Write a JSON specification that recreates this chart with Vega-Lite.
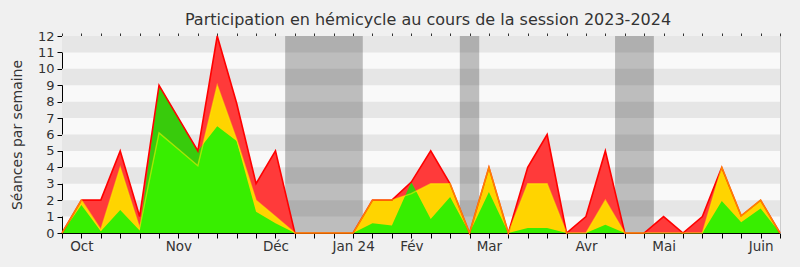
{
  "$schema": "https://vega.github.io/schema/vega-lite/v6.json",
  "autosize": {"type": "none"},
  "padding": {"left": 62, "top": 36, "right": 20, "bottom": 34},
  "width": 718,
  "height": 197,
  "background": "#f0f0f0",
  "config": {
    "view": {"stroke": null, "fill": "#f9f9f9"},
    "font": "DejaVu Sans"
  },
  "title": {
    "text": "Participation en hémicycle au cours de la session 2023-2024",
    "font": "DejaVu Sans",
    "fontSize": 16,
    "fontWeight": "normal",
    "color": "#333333",
    "anchor": "middle",
    "dx": 7,
    "offset": 2
  },
  "datasets": {
    "semaines": [
      {"semaine": 0, "seances": 0, "presences": 0, "participations": 0},
      {"semaine": 1, "seances": 2, "presences": 2, "participations": 1.7},
      {"semaine": 2, "seances": 2, "presences": 0.2, "participations": 0.1},
      {"semaine": 3, "seances": 5, "presences": 4, "participations": 1.4},
      {"semaine": 4, "seances": 1, "presences": 0.3, "participations": 0.15},
      {"semaine": 5, "seances": 9, "presences": 6.1, "participations": 9},
      {"semaine": 6, "seances": 7, "presences": 5.1, "participations": 7},
      {"semaine": 7, "seances": 5, "presences": 4.1, "participations": 5},
      {"semaine": 8, "seances": 12, "presences": 9, "participations": 6.5},
      {"semaine": 9, "seances": 7.9, "presences": 5.7, "participations": 5.6},
      {"semaine": 10, "seances": 3, "presences": 2, "participations": 1.3},
      {"semaine": 11, "seances": 5, "presences": 1, "participations": 0.6},
      {"semaine": 12, "seances": 0, "presences": 0, "participations": 0},
      {"semaine": 13, "seances": 0, "presences": 0, "participations": 0},
      {"semaine": 14, "seances": 0, "presences": 0, "participations": 0},
      {"semaine": 15, "seances": 0, "presences": 0, "participations": 0},
      {"semaine": 16, "seances": 2, "presences": 2, "participations": 0.6},
      {"semaine": 17, "seances": 2, "presences": 2, "participations": 0.45},
      {"semaine": 18, "seances": 3.1, "presences": 2.4, "participations": 3.1},
      {"semaine": 19, "seances": 5, "presences": 3, "participations": 0.85},
      {"semaine": 20, "seances": 3, "presences": 3, "participations": 2.2},
      {"semaine": 21, "seances": 0, "presences": 0, "participations": 0},
      {"semaine": 22, "seances": 4, "presences": 4, "participations": 2.5},
      {"semaine": 23, "seances": 0, "presences": 0, "participations": 0},
      {"semaine": 24, "seances": 4, "presences": 3, "participations": 0.3},
      {"semaine": 25, "seances": 6, "presences": 3, "participations": 0.3},
      {"semaine": 26, "seances": 0, "presences": 0, "participations": 0},
      {"semaine": 27, "seances": 1, "presences": 0, "participations": 0},
      {"semaine": 28, "seances": 5, "presences": 2, "participations": 0.5},
      {"semaine": 29, "seances": 0, "presences": 0, "participations": 0},
      {"semaine": 30, "seances": 0, "presences": 0, "participations": 0},
      {"semaine": 31, "seances": 1, "presences": 0, "participations": 0},
      {"semaine": 32, "seances": 0, "presences": 0, "participations": 0},
      {"semaine": 33, "seances": 1, "presences": 0, "participations": 0},
      {"semaine": 34, "seances": 4, "presences": 4, "participations": 1.95},
      {"semaine": 35, "seances": 1.05, "presences": 1.05, "participations": 0.65},
      {"semaine": 36, "seances": 2, "presences": 2, "participations": 1.5},
      {"semaine": 37, "seances": 0, "presences": 0, "participations": 0}
    ],
    "bandes": [
      {"bas": 1, "haut": 2},
      {"bas": 3, "haut": 4},
      {"bas": 5, "haut": 6},
      {"bas": 7, "haut": 8},
      {"bas": 9, "haut": 10},
      {"bas": 11, "haut": 12}
    ],
    "vacances": [
      {"debut": 11.5, "fin": 15.5},
      {"debut": 20.5, "fin": 21.5},
      {"debut": 28.5, "fin": 30.5}
    ]
  },
  "resolve": {"axis": {"x": "independent", "y": "independent"}},
  "layer": [
    {
      "data": {"name": "bandes"},
      "mark": {"type": "rect", "color": "#e6e6e6"},
      "encoding": {
        "y": {"field": "bas", "type": "quantitative", "scale": {"domain": [0, 12], "nice": false}, "axis": null},
        "y2": {"field": "haut"}
      }
    },
    {
      "data": {"name": "vacances"},
      "mark": {"type": "rect", "color": "#000000", "opacity": 0.24},
      "encoding": {
        "x": {"field": "debut", "type": "quantitative", "scale": {"domain": [0, 37], "nice": false, "zero": false}, "axis": null},
        "x2": {"field": "fin"}
      }
    },
    {
      "data": {"name": "semaines"},
      "mark": {"type": "area", "color": "#ff3a3a", "opacity": 1},
      "encoding": {
        "x": {
          "field": "semaine", "type": "quantitative",
          "scale": {"domain": [0, 37], "nice": false, "zero": false},
          "axis": {
            "orient": "bottom",
            "title": null,
            "grid": false,
            "values": [0,1,2,3,4,5,6,7,8,9,10,11,12,13,14,15,16,17,18,19,20,21,22,23,24,25,26,27,28,29,30,31,32,33,34,35,36,37],
            "labelExpr": "datum.value == 1 ? 'Oct' : datum.value == 6 ? 'Nov' : datum.value == 11 ? 'Déc' : datum.value == 15 ? 'Jan 24' : datum.value == 18 ? 'Fév' : datum.value == 22 ? 'Mar' : datum.value == 27 ? 'Avr' : datum.value == 31 ? 'Mai' : datum.value == 36 ? 'Juin' : ''",
            "labelOverlap": false,
            "labelFlush": false,
            "labelFont": "DejaVu Sans",
            "labelFontSize": 13.5,
            "labelColor": "#333333",
            "labelPadding": 1,
            "tickSize": 5,
            "tickColor": "#000000",
            "domainColor": "#000000",
            "domainWidth": 1
          }
        },
        "y": {
          "field": "seances", "type": "quantitative",
          "scale": {"domain": [0, 12], "nice": false},
          "axis": {
            "orient": "left",
            "title": "Séances par semaine",
            "titleFont": "DejaVu Sans",
            "titleFontSize": 14,
            "titleFontWeight": "normal",
            "titleColor": "#333333",
            "titlePadding": 13,
            "grid": false,
            "values": [0,1,2,3,4,5,6,7,8,9,10,11,12],
            "labelFont": "DejaVu Sans",
            "labelFontSize": 13,
            "labelColor": "#333333",
            "labelPadding": 3,
            "tickSize": 5,
            "tickColor": "#000000",
            "domainColor": "#000000"
          }
        }
      }
    },
    {
      "data": {"name": "semaines"},
      "mark": {"type": "area", "color": "#ffd400", "opacity": 1},
      "encoding": {
        "x": {
          "field": "semaine", "type": "quantitative",
          "scale": {"domain": [0, 37], "nice": false, "zero": false},
          "axis": {
            "orient": "top",
            "title": null,
            "grid": false,
            "labels": false,
            "domain": false,
            "values": [0,1,2,3,4,5,6,7,8,9,10,11,12,13,14,15,16,17,18,19,20,21,22,23,24,25,26,27,28,29,30,31,32,33,34,35,36,37],
            "tickSize": 3,
            "tickColor": "#333333"
          }
        },
        "y": {
          "field": "presences", "type": "quantitative",
          "scale": {"domain": [0, 12], "nice": false},
          "axis": {
            "orient": "right",
            "title": null,
            "grid": false,
            "labels": false,
            "ticks": false,
            "domainColor": "#cccccc"
          }
        }
      }
    },
    {
      "data": {"name": "semaines"},
      "mark": {"type": "area", "color": "#00f500", "opacity": 0.78},
      "encoding": {
        "x": {"field": "semaine", "type": "quantitative", "scale": {"domain": [0, 37], "nice": false, "zero": false}, "axis": null},
        "y": {"field": "participations", "type": "quantitative", "scale": {"domain": [0, 12], "nice": false}, "axis": null}
      }
    },
    {
      "data": {"name": "semaines"},
      "mark": {"type": "line", "color": "#ff0000", "strokeWidth": 1.6},
      "encoding": {
        "x": {"field": "semaine", "type": "quantitative", "scale": {"domain": [0, 37], "nice": false, "zero": false}, "axis": null},
        "y": {"field": "seances", "type": "quantitative", "scale": {"domain": [0, 12], "nice": false}, "axis": null}
      }
    },
    {
      "data": {"name": "semaines"},
      "mark": {"type": "line", "color": "#ffee00", "strokeWidth": 1.4, "opacity": 0.55},
      "encoding": {
        "x": {"field": "semaine", "type": "quantitative", "scale": {"domain": [0, 37], "nice": false, "zero": false}, "axis": null},
        "y": {"field": "presences", "type": "quantitative", "scale": {"domain": [0, 12], "nice": false}, "axis": null}
      }
    }
  ]
}
